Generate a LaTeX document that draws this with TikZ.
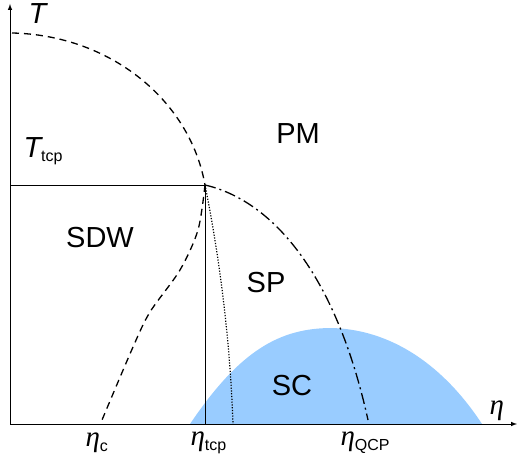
\documentclass[tikz,border=0pt]{standalone}
\usepackage{fontspec}
\setmainfont{Liberation Sans}
\newfontfamily\etafont{Liberation Serif}

\definecolor{scblue}{RGB}{153,204,255}
\newcommand{\lowsub}[1]{\raisebox{-5pt}{\fontsize{16}{18}\selectfont #1}}
\newcommand{\etasym}{{\etafont\itshape η}}

\tikzset{
  phase/.style={inner sep=0pt},
  axislabel/.style={inner sep=0pt, anchor=base west},
  firstorder/.style={line width=1.3pt, dash pattern=on 7pt off 5pt},
  secondorder/.style={line width=1.3pt, dash pattern=on 11pt off 4pt on 2pt off 4pt},
  crossover/.style={line width=1.2pt, dash pattern=on 1.2pt off 1.6pt}
}

\begin{document}
\begin{tikzpicture}[x=1pt, y=-1pt, >=latex, line width=1pt, font=\fontsize{29}{34}\selectfont]
  \useasboundingbox (0,0) rectangle (517,460);

  % Superconducting dome
  \fill[scblue] (190,424) .. controls (240,350) and (280,328) .. (332,328)
    .. controls (400,330) and (450,375) .. (482,424) -- cycle;

  % Axes
  \coordinate (O) at (10,424);
  \draw[->] (O) -- (517,424);
  \draw[->] (O) -- (10,4);

  % Tricritical point
  \coordinate (tcp) at (205,185);
  \draw (10,185) -- (tcp) -- (205,424);

  % First order line
  \draw[firstorder] (12,33) .. controls (110,35) and (190,100) .. (tcp);
  \draw[firstorder] plot[smooth] coordinates {(205,185) (198,230) (180,270) (150,312) (133,347) (102,420)};

  % Second order line
  \draw[secondorder] (tcp) .. controls (270,200) and (335,270) .. (368,420);

  % Crossover
  \draw[crossover] (tcp) .. controls (220,260) and (230,340) .. (233,424);

  % Phases
  \node[phase] (pm) at (298,134) {PM};
  \node[phase] (sdw) at (100,238) {SDW};
  \node[phase] (sp) at (266,283) {SP};
  \node[phase] (sc) at (292,386) {SC};

  % Labels
  \node[axislabel] (tlab) at (28,24) {\itshape T};
  \node[axislabel] (ttcp) at (23,157) {{\itshape T}\lowsub{tcp}};
  \node[axislabel] (etalab) at (489,414) {\etasym};
  \node[axislabel] (etac) at (85,446) {\etasym\lowsub{c}};
  \node[axislabel] (etatcp) at (190,445) {\etasym\lowsub{tcp}};
  \node[axislabel] (etaqcp) at (340,445) {\etasym\lowsub{QCP}};
\end{tikzpicture}
\end{document}
